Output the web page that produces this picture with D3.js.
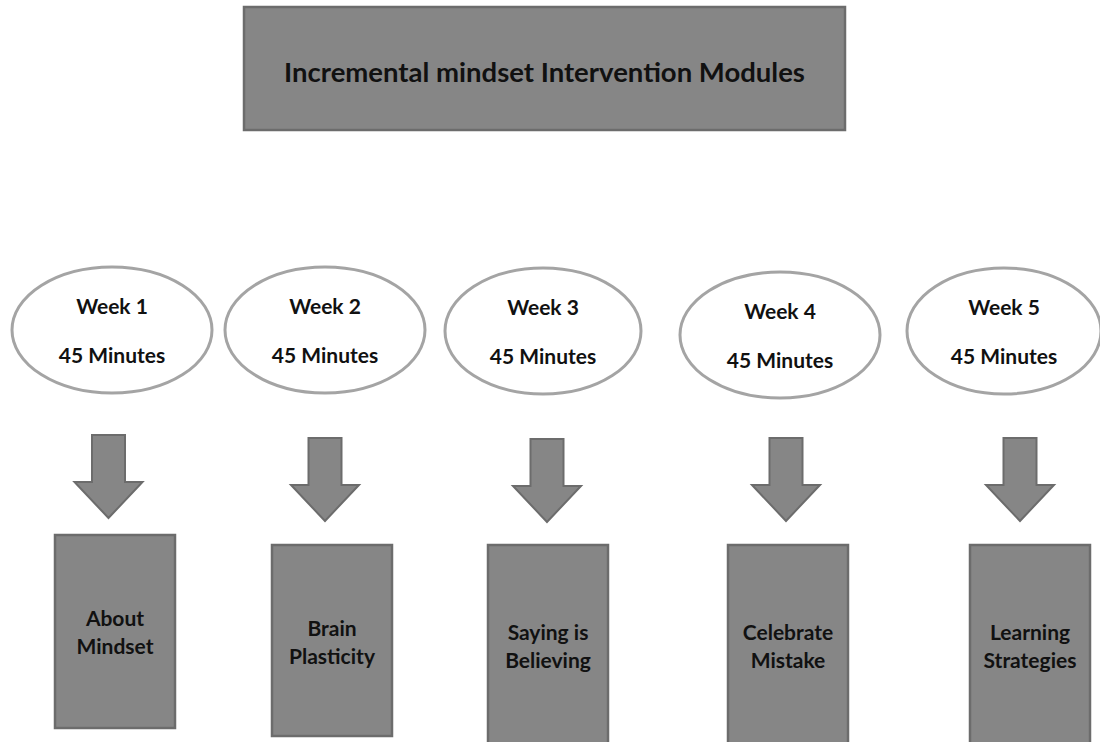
<html>
<head>
<meta charset="utf-8">
<style>
  body { margin: 0; background: white; }
  .chart text { font-family: "Lato", "Open Sans", sans-serif; font-weight: bold; fill: #111; }
</style>
</head>
<body>
<svg class="chart"></svg>
<script src="https://d3js.org/d3.v7.min.js"></script>
<script>
  var title = "Incremental mindset Intervention Modules";
  var weeks = ["Week 1", "Week 2", "Week 3", "Week 4", "Week 5"];
  var durations = ["45 Minutes", "45 Minutes", "45 Minutes", "45 Minutes", "45 Minutes"];
  var modules = [
    ["About", "Mindset"],
    ["Brain", "Plasticity"],
    ["Saying is", "Believing"],
    ["Celebrate", "Mistake"],
    ["Learning", "Strategies"]
  ];

  var width = 1100;
  var height = 742;
  var fillGrey = "#868686";
  var edgeGrey = "#6c6c6c";

  // column positions for the three rows (hand placed like the original slide)
  var ovalX = d3.scaleOrdinal().domain(weeks).range([112, 325, 543, 780, 1004]);
  var ovalY = d3.scaleOrdinal().domain(weeks).range([330, 330, 331, 335, 331]);
  var ovalRx = d3.scaleOrdinal().domain(weeks).range([100, 100, 98, 100, 97]);
  var arrowX = d3.scaleOrdinal().domain(weeks).range([108.5, 325, 547, 786, 1020]);
  var arrowTop = d3.scaleOrdinal().domain(weeks).range([435, 438, 439, 438, 438]);
  var boxX = d3.scaleOrdinal().domain(weeks).range([55, 272, 488, 728, 970]);
  var boxTop = d3.scaleOrdinal().domain(weeks).range([535, 545, 545, 545, 545]);
  var boxBottom = d3.scaleOrdinal().domain(weeks).range([728, 736, 760, 760, 760]);
  var boxTextY = d3.scaleOrdinal().domain(weeks).range([618, 628, 632, 632, 632]);
  var boxW = 120;

  var chart = d3.select(".chart")
    .attr("width", width)
    .attr("height", height);

  // title box
  chart.append("rect")
    .attr("x", 244).attr("y", 7)
    .attr("width", 601).attr("height", 123)
    .attr("fill", fillGrey)
    .attr("stroke", edgeGrey)
    .attr("stroke-width", 2.5);

  chart.append("text")
    .attr("x", 544.5).attr("y", 82)
    .attr("text-anchor", "middle")
    .style("font-size", "27.5px")
    .text(title);

  var cols = chart.selectAll("g.col")
      .data(weeks.map(function(w, i) { return {week: w, dur: durations[i], mod: modules[i]}; }))
    .enter().append("g")
      .attr("class", "col");

  // week ovals
  cols.append("ellipse")
    .attr("cx", function(d) { return ovalX(d.week); })
    .attr("cy", function(d) { return ovalY(d.week); })
    .attr("rx", function(d) { return ovalRx(d.week); })
    .attr("ry", 63)
    .attr("fill", "white")
    .attr("stroke", "#a4a4a4")
    .attr("stroke-width", 3);

  cols.append("text")
    .attr("x", function(d) { return ovalX(d.week); })
    .attr("y", function(d) { return ovalY(d.week) - 16.5; })
    .attr("text-anchor", "middle")
    .style("font-size", "21px")
    .text(function(d) { return d.week; });

  cols.append("text")
    .attr("x", function(d) { return ovalX(d.week); })
    .attr("y", function(d) { return ovalY(d.week) + 32.5; })
    .attr("text-anchor", "middle")
    .style("font-size", "21px")
    .text(function(d) { return d.dur; });

  // down arrows
  function arrowPath(cx, top) {
    var sw = 16.5, hw = 34, base = top + 47, tip = top + 83;
    return "M" + (cx - sw) + "," + top +
      "L" + (cx + sw) + "," + top +
      "L" + (cx + sw) + "," + base +
      "L" + (cx + hw) + "," + base +
      "L" + cx + "," + tip +
      "L" + (cx - hw) + "," + base +
      "L" + (cx - sw) + "," + base + "Z";
  }

  cols.append("path")
    .attr("d", function(d) { return arrowPath(arrowX(d.week), arrowTop(d.week)); })
    .attr("fill", fillGrey)
    .attr("stroke", edgeGrey)
    .attr("stroke-width", 2)
    .attr("stroke-linejoin", "miter");

  // module boxes
  cols.append("rect")
    .attr("x", function(d) { return boxX(d.week); })
    .attr("y", function(d) { return boxTop(d.week); })
    .attr("width", boxW)
    .attr("height", function(d) { return boxBottom(d.week) - boxTop(d.week); })
    .attr("fill", fillGrey)
    .attr("stroke", edgeGrey)
    .attr("stroke-width", 2.5);

  cols.each(function(d) {
    var t = d3.select(this).append("text")
      .attr("text-anchor", "middle")
      .style("font-size", "21px");
    d.mod.forEach(function(line, j) {
      t.append("tspan")
        .attr("x", boxX(d.week) + boxW / 2)
        .attr("y", boxTextY(d.week) + 7.5 + j * 28)
        .text(line);
    });
  });
</script>
</body>
</html>
